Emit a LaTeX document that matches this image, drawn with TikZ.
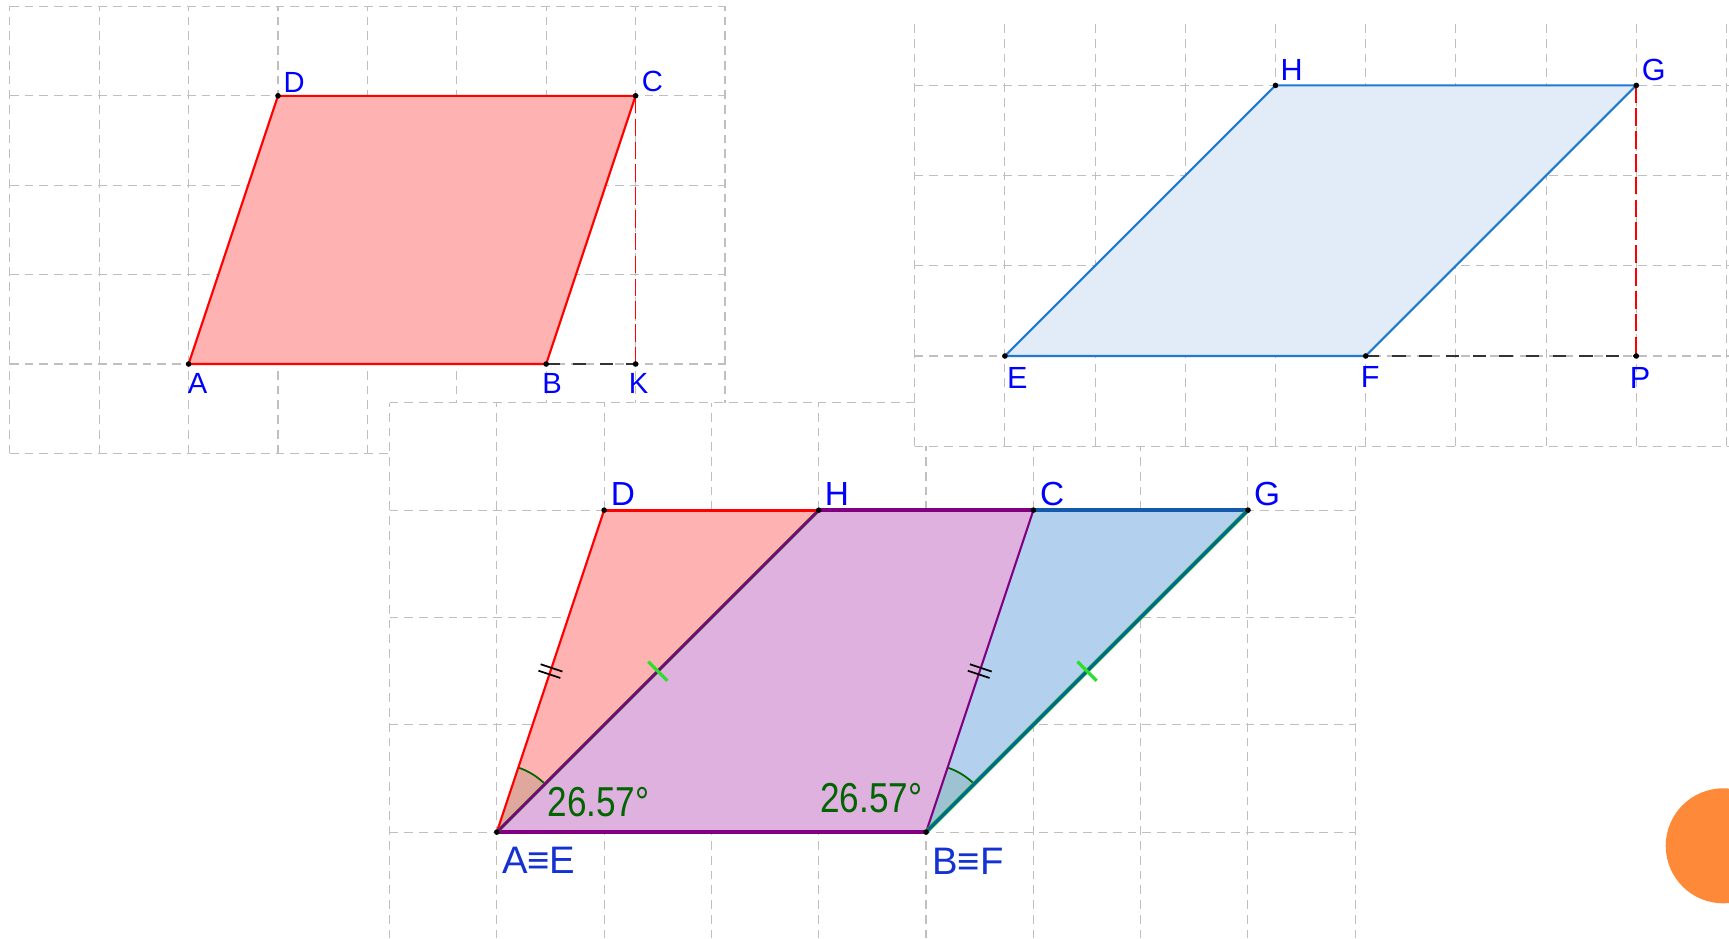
\documentclass[tikz,border=0pt]{standalone}
\usepackage{fontspec}
\setmainfont{Liberation Sans}
\usetikzlibrary{positioning, calc}

\definecolor{ggred}{RGB}{255,0,0}
\definecolor{pinkfill}{RGB}{255,178,178}
\definecolor{ggblue}{RGB}{32,120,210}
\definecolor{bluefill}{RGB}{226,236,248}
\definecolor{purplefill}{RGB}{223,177,223}
\definecolor{blueregion}{RGB}{179,208,238}
\definecolor{ggpurple}{RGB}{128,0,128}
\definecolor{ggdarkblue}{RGB}{21,90,170}
\definecolor{ggteal}{RGB}{0,100,150}
\definecolor{gggreen}{RGB}{40,225,40}
\definecolor{anglegreen}{RGB}{0,100,0}
\definecolor{ptblue}{RGB}{0,0,255}
\definecolor{eqblue}{RGB}{20,50,210}
\definecolor{slideorange}{RGB}{253,137,57}

\begin{document}
\begin{tikzpicture}[
    gridline/.style={draw=black!25, line width=0.3pt, dash pattern=on 2.5pt off 1.7pt},
    side/.style={line width=0.6pt},
    thickside/.style={line width=1.1pt},
    heightline/.style={draw=ggred, line width=0.5pt, dash pattern=on 5pt off 1.5pt},
    extline/.style={draw=black!80, line width=0.85pt, dash pattern=on 3.8pt off 3.8pt},
    vertex/.style={circle, fill=black, inner sep=0pt, minimum size=1.6pt},
    ptlabel/.style={text=ptblue, inner sep=0pt},
    anglearc/.style={draw=anglegreen, line width=0.5pt},
    anglefill/.style={fill=anglegreen, fill opacity=0.12},
    anglelabel/.style={text=anglegreen, inner sep=0pt, font=\fontsize{11.9}{13}\selectfont},
    dbltick/.style={draw=black, line width=0.5pt},
    sgltick/.style={draw=gggreen, line width=0.9pt}
]
    \useasboundingbox (0,0) rectangle (17.29,-9.38);
    \clip (0,0) rectangle (17.29,-9.38);

    % parallelogram ABCD
    \begin{scope}[shift={(1.886,-3.64)}, scale=0.894]
        \foreach \x in {-2,...,6} \draw[gridline] (\x,-1) -- (\x,4);
        \foreach \y in {-1,...,4} \draw[gridline] (-2,\y) -- (6,\y);
        \coordinate (A) at (0,0);
        \coordinate (B) at (4,0);
        \coordinate (C) at (5,3);
        \coordinate (D) at (1,3);
        \coordinate (K) at (5,0);
        \filldraw[fill=pinkfill, draw=ggred, side] (A) -- (B) -- (C) -- (D) -- cycle;
        \draw[heightline] (C) -- (K);
        \draw[extline] (B) -- (K);
        \foreach \p in {A,B,C,D,K} \node[vertex] (v\p) at (\p) {};
        \begin{scope}[ptlabel/.append style={font=\fontsize{8.3}{10}\selectfont}]
            \node[ptlabel, above right=0.3mm and 0.5mm of D] (lD) {D};
            \node[ptlabel, above right=0.3mm and 0.55mm of C] (lC) {C};
            \node[ptlabel, below right=0.87mm and -0.15mm of A] (lA) {A};
            \node[ptlabel, below right=0.87mm and -0.45mm of B] (lB) {B};
            \node[ptlabel, below right=0.87mm and -0.75mm of K] (lK) {K};
        \end{scope}
    \end{scope}

    % both parallelograms on the same base
    \begin{scope}[shift={(4.968,-8.321)}, scale=1.073]
        \fill[white] (-1,-1) rectangle (8,4);
        \foreach \x in {-1,...,8} \draw[gridline] (\x,-0.99) -- (\x,4);
        \foreach \y in {0,...,4} \draw[gridline] (-1,\y) -- (8,\y);
        \coordinate (AE) at (0,0);
        \coordinate (BF) at (4,0);
        \coordinate (Dm) at (1,3);
        \coordinate (Hm) at (3,3);
        \coordinate (Cm) at (5,3);
        \coordinate (Gm) at (7,3);
        \fill[pinkfill] (AE) -- (Hm) -- (Dm) -- cycle;
        \fill[purplefill] (AE) -- (BF) -- (Cm) -- (Hm) -- cycle;
        \fill[blueregion] (BF) -- (Gm) -- (Cm) -- cycle;
        \fill[anglefill] (AE) -- ++(45:0.634) arc[start angle=45, end angle=71.565, radius=0.634] -- cycle;
        \fill[anglefill] (BF) -- ++(45:0.634) arc[start angle=45, end angle=71.565, radius=0.634] -- cycle;
        \draw[anglearc] ($(AE)+(45:0.634)$) arc[start angle=45, end angle=71.565, radius=0.634];
        \draw[anglearc] ($(BF)+(45:0.634)$) arc[start angle=45, end angle=71.565, radius=0.634];
        \draw[side, ggred] (AE) -- (Dm);
        \draw[line width=0.8pt, ggred] (Dm) -- (Hm);
        \draw[thickside, ggpurple] (Hm) -- (Cm);
        \draw[thickside, ggdarkblue] (Cm) -- (Gm);
        \draw[thickside, ggpurple] (AE) -- (BF);
        \draw[side, ggpurple] (BF) -- (Cm);
        \draw[line width=0.95pt, anglegreen!40!gggreen] (AE) -- (Hm);
        \draw[line width=0.75pt, ggpurple] (AE) -- (Hm);
        \draw[line width=1.2pt, gggreen!80!black] (BF) -- (Gm);
        \draw[line width=0.8pt, ggteal] (BF) -- (Gm);
        \foreach \t in {0.49,0.51} {
            \draw[dbltick] ($(AE)!\t!(Dm)$) ++(-18.43:0.107) -- ++(161.57:0.214);
            \draw[dbltick] ($(BF)!\t!(Cm)$) ++(-18.43:0.107) -- ++(161.57:0.214);
        }
        \draw[sgltick] ($(AE)!0.5!(Hm)$) ++(-45:0.126) -- ++(135:0.252);
        \draw[sgltick] ($(BF)!0.5!(Gm)$) ++(-45:0.126) -- ++(135:0.252);
        \node[anglelabel, above right=1.5mm and 5mm of AE] (angA) {\scalebox{0.84}[1]{26.57°}};
        \node[anglelabel, above left=1.8mm and 0.3mm of BF] (angB) {\scalebox{0.84}[1]{26.57°}};
        \foreach \p in {AE,BF,Dm,Hm,Cm,Gm} \node[vertex] (v\p) at (\p) {};
        \begin{scope}[ptlabel/.append style={font=\fontsize{9.5}{11}\selectfont}]
            \node[ptlabel, above right=0.35mm and 0.6mm of Dm] (lDm) {D};
            \node[ptlabel, above right=0.35mm and 0.55mm of Hm] (lHm) {H};
            \node[ptlabel, above right=0.35mm and 0.6mm of Cm] (lCm) {C};
            \node[ptlabel, above right=0.35mm and 0.55mm of Gm] (lGm) {G};
        \end{scope}
        \begin{scope}[ptlabel/.append style={text=eqblue, font=\fontsize{10.9}{12}\selectfont}]
            \node[ptlabel, below right=1.4mm and 0.45mm of AE] (lAE) {A≡E};
            \node[ptlabel, below right=1.5mm and 0.55mm of BF] (lBF) {B≡F};
        \end{scope}
    \end{scope}

    % parallelogram EFGH
    \begin{scope}[shift={(10.049,-3.56)}, scale=0.902]
        \fill[white] (-1,-1) rectangle (8.1,3.73);
        \foreach \x in {-1,...,8} \draw[gridline] (\x,-1) -- (\x,3.73);
        \foreach \y in {-1,...,3} \draw[gridline] (-1,\y) -- (8.1,\y);
        \coordinate (E) at (0,0);
        \coordinate (F) at (4,0);
        \coordinate (G) at (7,3);
        \coordinate (H) at (3,3);
        \coordinate (P) at (7,0);
        \filldraw[fill=bluefill, draw=ggblue, side] (E) -- (F) -- (G) -- (H) -- cycle;
        \draw[heightline] (G) -- (P);
        \draw[extline] (F) -- (P);
        \foreach \p in {E,F,G,H,P} \node[vertex] (v\p) at (\p) {};
        \begin{scope}[ptlabel/.append style={font=\fontsize{8.7}{10}\selectfont}]
            \node[ptlabel, above right=0.4mm and 0.45mm of H] (lH) {H};
            \node[ptlabel, above right=0.35mm and 0.5mm of G] (lG) {G};
            \node[ptlabel, below right=1.05mm and 0.15mm of E] (lE) {E};
            \node[ptlabel, below right=1.0mm and -0.55mm of F] (lF) {F};
            \node[ptlabel, below right=1.05mm and -0.7mm of P] (lP) {P};
        \end{scope}
    \end{scope}

    \fill[slideorange] (17.232,-8.458) circle[radius=0.575];
\end{tikzpicture}
\end{document}
